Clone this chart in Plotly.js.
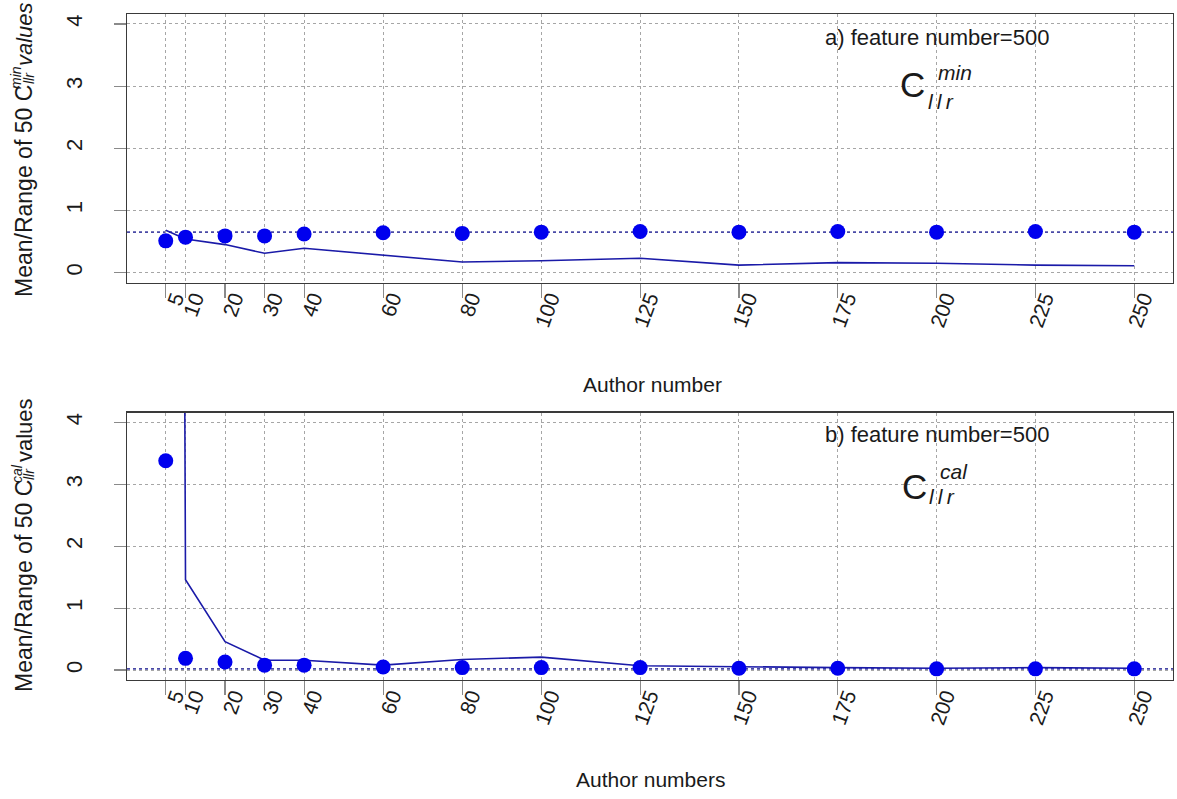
<!DOCTYPE html>
<html>
<head>
<meta charset="utf-8">
<script src="https://cdn.plot.ly/plotly-3.0.1.min.js"></script>
<style>
  html, body { margin: 0; padding: 0; background: #fff; }
  #chart { width: 1177px; height: 799px; }
</style>
</head>
<body>
<div id="chart"></div>
<script>
// ---- data ----
const authorNumbers = [5, 10, 20, 30, 40, 60, 80, 100, 125, 150, 175, 200, 225, 250];
const xTickLabels = ["5", "10", "20", "30", "40", "60", "80", "100", "125", "150", "175", "200", "225", "250"];
const yTickValues = [0, 1, 2, 3, 4];

// panel a) Cllr^min
const minMean  = [0.51, 0.57, 0.59, 0.59, 0.62, 0.64, 0.63, 0.65, 0.66, 0.65, 0.66, 0.65, 0.66, 0.65];
const minRange = [0.68, 0.54, 0.45, 0.31, 0.39, 0.28, 0.17, 0.19, 0.23, 0.12, 0.16, 0.15, 0.12, 0.11];
const minRefLine = 0.65;

// panel b) Cllr^cal
const calMean  = [3.38, 0.19, 0.13, 0.08, 0.08, 0.05, 0.04, 0.04, 0.04, 0.03, 0.03, 0.02, 0.02, 0.02];
const calRange = [80, 1.46, 0.46, 0.16, 0.16, 0.08, 0.17, 0.21, 0.07, 0.05, 0.04, 0.03, 0.04, 0.03];
const calRefLine = 0.02;

// ---- styling ----
const FONT = '"Liberation Sans", Arial, Helvetica, sans-serif';
const TXT = '#1a1a1a';
const W = 1177, H = 799;
const M = { l: 127, r: 4, t: 14, b: 119 };
const plotW = W - M.l - M.r, plotH = H - M.t - M.b;
const px2x = px => (px - M.l) / plotW;
const py2y = py => (H - M.b - py) / plotH;

const topDomain = [py2y(282.5), 1];
const botDomain = [0, py2y(412.5)];

function xAxis(anchor) {
  return {
    anchor: anchor,
    range: [-4.8, 259.8],
    tickmode: 'array',
    tickvals: authorNumbers,
    ticktext: xTickLabels,
    tickangle: -70,
    ticks: 'outside',
    ticklen: 14,
    tickcolor: '#8a8a8a',
    tickwidth: 1.2,
    tickfont: { family: FONT, size: 21, color: TXT },
    ticklabelshift: 9,
    ticklabelstandoff: -20,
    showline: true,
    linecolor: '#3a3a3a',
    linewidth: 1.4,
    mirror: true,
    showgrid: true,
    gridcolor: '#a6a6a6',
    griddash: 'dot',
    gridwidth: 1,
    zeroline: false,
    fixedrange: true
  };
}
function yAxis(anchor, domain) {
  return {
    anchor: anchor,
    domain: domain,
    range: [-0.16, 4.16],
    tickmode: 'array',
    tickvals: yTickValues,
    tickangle: -90,
    ticks: 'outside',
    ticklen: 12,
    tickcolor: '#8a8a8a',
    tickwidth: 1.2,
    tickfont: { family: FONT, size: 22, color: TXT },
    ticklabelstandoff: 23,
    showline: true,
    linecolor: '#3a3a3a',
    linewidth: 1.4,
    mirror: true,
    showgrid: true,
    gridcolor: '#a6a6a6',
    griddash: 'dot',
    gridwidth: 1,
    zeroline: false,
    fixedrange: true
  };
}

const lineColor = '#1a1aa8';
const dotColor = '#0000ee';

const traces = [
  { x: authorNumbers, y: minRange, xaxis: 'x', yaxis: 'y', mode: 'lines',
    line: { color: lineColor, width: 1.6 }, hoverinfo: 'skip', showlegend: false },
  { x: authorNumbers, y: minMean, xaxis: 'x', yaxis: 'y', mode: 'markers',
    marker: { color: dotColor, size: 15 }, showlegend: false },
  { x: authorNumbers, y: calRange, xaxis: 'x2', yaxis: 'y2', mode: 'lines',
    line: { color: lineColor, width: 1.6 }, hoverinfo: 'skip', showlegend: false },
  { x: authorNumbers, y: calMean, xaxis: 'x2', yaxis: 'y2', mode: 'markers',
    marker: { color: dotColor, size: 15 }, showlegend: false }
];

function ann(text, px, py, size, opts) {
  return Object.assign({
    text: text, xref: 'paper', yref: 'paper', x: px2x(px), y: py2y(py),
    xanchor: 'center', yanchor: 'middle', showarrow: false,
    font: { family: FONT, size: size, color: TXT }, borderpad: 0
  }, opts || {});
}

const annotations = [
  // x axis titles
  ann('Author number', 652, 385, 21),
  ann('Author numbers', 650, 779, 21),
  // panel labels
  ann('a) feature number=500', 937, 37, 22),
  ann('b) feature number=500', 937, 434, 22),
  // top inset symbol C_llr^min
  ann('C', 912, 85, 35),
  ann('<i>min</i>', 955, 72, 21),
  ann('<i>l\u2009l\u2009r</i>', 941, 101, 21),
  // bottom inset symbol C_llr^cal
  ann('C', 914, 487, 35),
  ann('<i>cal</i>', 954, 472, 21),
  ann('<i>l\u2009l\u2009r</i>', 942, 497, 21),
  // top y title
  ann('Mean/Range of 50 C', 24, 298, 23, { textangle: -90, yanchor: 'bottom' }),
  ann('<i>min</i>', 16, 78, 14, { textangle: -90 }),
  ann('<i>llr</i>', 29, 78, 14, { textangle: -90 }),
  ann('<i>values</i>', 24, 67, 22, { textangle: -90, yanchor: 'bottom' }),
  // bottom y title
  ann('Mean/Range of 50 C', 24, 693, 23, { textangle: -90, yanchor: 'bottom' }),
  ann('<i>cal</i>', 17, 474, 14, { textangle: -90 }),
  ann('<i>llr</i>', 29, 474, 14, { textangle: -90 }),
  ann('values', 24, 463, 22, { textangle: -90, yanchor: 'bottom' })
];

const shapes = [
  { type: 'line', xref: 'x domain', yref: 'y', x0: 0, x1: 1, y0: minRefLine, y1: minRefLine,
    line: { color: '#4a4aa6', width: 1.7, dash: 'dot' }, layer: 'below' },
  { type: 'line', xref: 'x2 domain', yref: 'y2', x0: 0, x1: 1, y0: calRefLine, y1: calRefLine,
    line: { color: '#4a4aa6', width: 1.7, dash: 'dot' }, layer: 'below' }
];

const layout = {
  width: W, height: H,
  margin: M,
  paper_bgcolor: '#ffffff',
  plot_bgcolor: '#ffffff',
  showlegend: false,
  xaxis: xAxis('y'),
  yaxis: yAxis('x', topDomain),
  xaxis2: xAxis('y2'),
  yaxis2: yAxis('x2', botDomain),
  annotations: annotations,
  shapes: shapes
};

Plotly.newPlot('chart', traces, layout, { displayModeBar: false, staticPlot: true });
</script>
</body>
</html>
